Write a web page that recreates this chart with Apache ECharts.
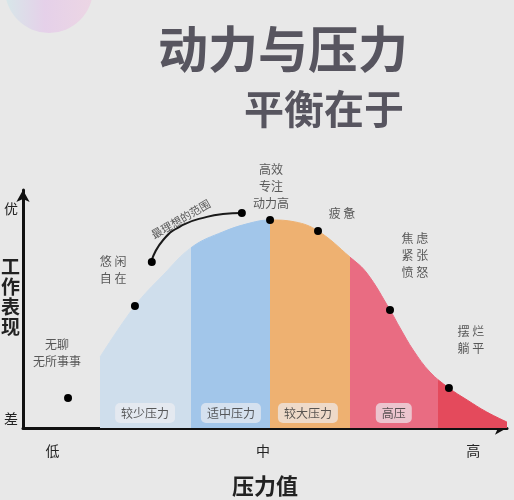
<!DOCTYPE html>
<html>
<head>
<meta charset="utf-8">
<script src="https://cdn.jsdelivr.net/npm/echarts@6/dist/echarts.min.js"></script>
<style>html,body{margin:0;padding:0;background:#e8e8e8;}#c{width:514px;height:500px;}</style>
</head>
<body>
<div id="c"></div>
<script>
// ---- data ----
const titleMain = '动力与压力';
const titleSub = '平衡在于';
const xAxisName = '压力值';
const yAxisName = '工作表现';
const xTickValues = [0, 50, 100];
const xTickLabels = ['低', '中', '高'];
const yTickValues = [4, 92];
const yTickLabels = ['差', '优'];

// performance curve (stress -> performance)
const curveX = [11.3, 19.6, 26.3, 33.2, 40.5, 46.9, 51.7, 57.6, 63.1, 70.7, 74.7, 80.2, 82.6, 85.7, 89.7, 94.2, 98.5, 103.2, 108.0];
const curveY = [29.8, 51.3, 64.3, 76.1, 82.4, 86.1, 87.4, 86.6, 82.8, 71.8, 65.1, 49.6, 42.0, 32.8, 23.5, 16.8, 11.8, 6.7, 2.5];

// stress zones
const bandEdges = [33.0, 51.7, 70.7, 91.6];
const bandColors = ['#cfdeec', '#a2c6ea', '#eeb171', '#e96c82', '#e44a5c'];
const bandNames = ['较少压力', '适中压力', '较大压力', '高压'];
const bandLabelX = [22.0, 42.4, 60.7, 81.1];
const bandLabelY = [6.3, 6.3, 6.3, 6.3];

// key points
const dotX = [3.7, 19.6, 23.6, 45.0, 51.7, 63.1, 80.2, 94.2];
const dotY = [12.6, 51.3, 69.7, 90.3, 87.4, 82.8, 49.6, 16.8];

// "ideal range" arc
const arcX = [23.4, 26.3, 31.0, 36.7, 40.5, 45.0];
const arcY = [69.7, 79.0, 85.3, 88.7, 89.9, 90.3];
const arcText = '最理想的范围';
const arcTextX = 30.5;
const arcTextY = 87.8;

// state notes
const noteTexts = ['无聊\n无所事事', '悠 闲\n自 在', '高效\n专注\n动力高', '疲 惫', '焦 虑\n紧 张\n愤 怒', '摆 烂\n躺 平'];
const noteX = [1.1, 14.4, 51.9, 68.8, 86.1, 99.4];
const noteY = [31.5, 66.4, 101.7, 90.3, 72.3, 37.0];

// ---- chart ----
const FONT = '"Noto Sans CJK SC", sans-serif';
const pieces = [];
for (let i = 0; i < bandColors.length; i++) {
  const p = { color: bandColors[i] };
  if (i > 0) p.gte = bandEdges[i - 1];
  if (i < bandEdges.length) p.lt = bandEdges[i];
  pieces.push(p);
}

const chart = echarts.init(document.getElementById('c'), null, { renderer: 'canvas' });
chart.setOption({
  backgroundColor: '#e8e8e8',
  animation: false,
  textStyle: { fontFamily: FONT },
  title: [
    { text: titleMain, left: 278, top: 19, textAlign: 'center',
      textStyle: { fontSize: 50, fontWeight: 'bold', color: '#57555f', fontFamily: FONT } },
    { text: titleSub, left: 319, top: 84, textAlign: 'center',
      textStyle: { fontSize: 40, fontWeight: 'bold', color: '#57555f', fontFamily: FONT } }
  ],
  graphic: [
    { type: 'circle', left: 5, top: -55, shape: { r: 44 }, z: 0, silent: true,
      style: { opacity: 0.5, fill: { type: 'linear', x: 0, y: 0, x2: 1, y2: 0,
        colorStops: [{ offset: 0, color: '#c6e6ea' }, { offset: 0.45, color: '#e2b9ea' }, { offset: 1, color: '#f0c4e0' }] } } },
    { type: 'text', left: 1, top: 257, z: 10, silent: true,
      style: { text: yAxisName.split('').join('\n'), fontSize: 19, lineHeight: 20, fontWeight: 'bold',
        fill: '#222', fontFamily: FONT } }
  ],
  grid: { left: 23, right: 7, top: 190, bottom: 72, containLabel: false, outerBoundsMode: 'none' },
  xAxis: {
    type: 'value', min: -7, max: 108,
    name: xAxisName, nameLocation: 'middle', nameGap: 47,
    nameTextStyle: { fontSize: 22, fontWeight: 'bold', color: '#222', fontFamily: FONT },
    axisLine: { show: true, onZero: false, symbol: ['none', 'arrow'], symbolSize: [10, 12], lineStyle: { color: '#111', width: 3 } },
    axisTick: { show: false },
    splitLine: { show: false },
    axisLabel: { customValues: xTickValues, margin: 16, fontSize: 14, color: '#222',
      formatter: v => xTickLabels[xTickValues.indexOf(v)] || '' }
  },
  yAxis: {
    type: 'value', min: 0, max: 100,
    axisLine: { show: true, onZero: false, symbol: ['none', 'arrow'], symbolSize: [10, 12], lineStyle: { color: '#111', width: 3 } },
    axisTick: { show: false },
    splitLine: { show: false },
    axisLabel: { customValues: yTickValues, margin: 5, fontSize: 14, color: '#222',
      formatter: v => yTickLabels[yTickValues.indexOf(v)] || '' }
  },
  visualMap: { type: 'piecewise', show: false, dimension: 0, seriesIndex: 0, pieces: pieces },
  series: [
    { type: 'line', smooth: 0.4, symbol: 'none', z: 1,
      data: curveX.map((x, i) => [x, curveY[i]]),
      lineStyle: { width: 1 }, areaStyle: { opacity: 1 } },
    { type: 'line', smooth: 0.5, symbol: 'none', z: 3,
      data: arcX.map((x, i) => [x, arcY[i]]),
      lineStyle: { color: '#1a1a1a', width: 2 } },
    { type: 'scatter', z: 4, symbolSize: 8, clip: false,
      itemStyle: { color: '#000', opacity: 1 },
      data: dotX.map((x, i) => [x, dotY[i]]) },
    { type: 'scatter', z: 5, symbolSize: 0, clip: false, silent: true,
      label: { show: true, position: 'inside', formatter: p => p.name,
        fontSize: 12, color: '#333', backgroundColor: 'rgba(238,238,242,0.85)', borderRadius: 5, padding: [4, 6], fontFamily: FONT },
      data: bandNames.map((n, i) => ({ name: n, value: [bandLabelX[i], bandLabelY[i]] })) },
    { type: 'scatter', z: 5, symbolSize: 0, clip: false, silent: true,
      label: { show: true, position: 'inside', formatter: p => p.name,
        fontSize: 12, lineHeight: 17, color: '#333', fontFamily: FONT },
      data: noteTexts.map((n, i) => ({ name: n, value: [noteX[i], noteY[i]] })) },
    { type: 'scatter', z: 5, symbolSize: 0, clip: false, silent: true,
      label: { show: true, position: 'inside', formatter: p => p.name, rotate: 30,
        fontSize: 11, color: '#333', fontFamily: FONT },
      data: [{ name: arcText, value: [arcTextX, arcTextY] }] }
  ]
});
</script>
</body>
</html>
